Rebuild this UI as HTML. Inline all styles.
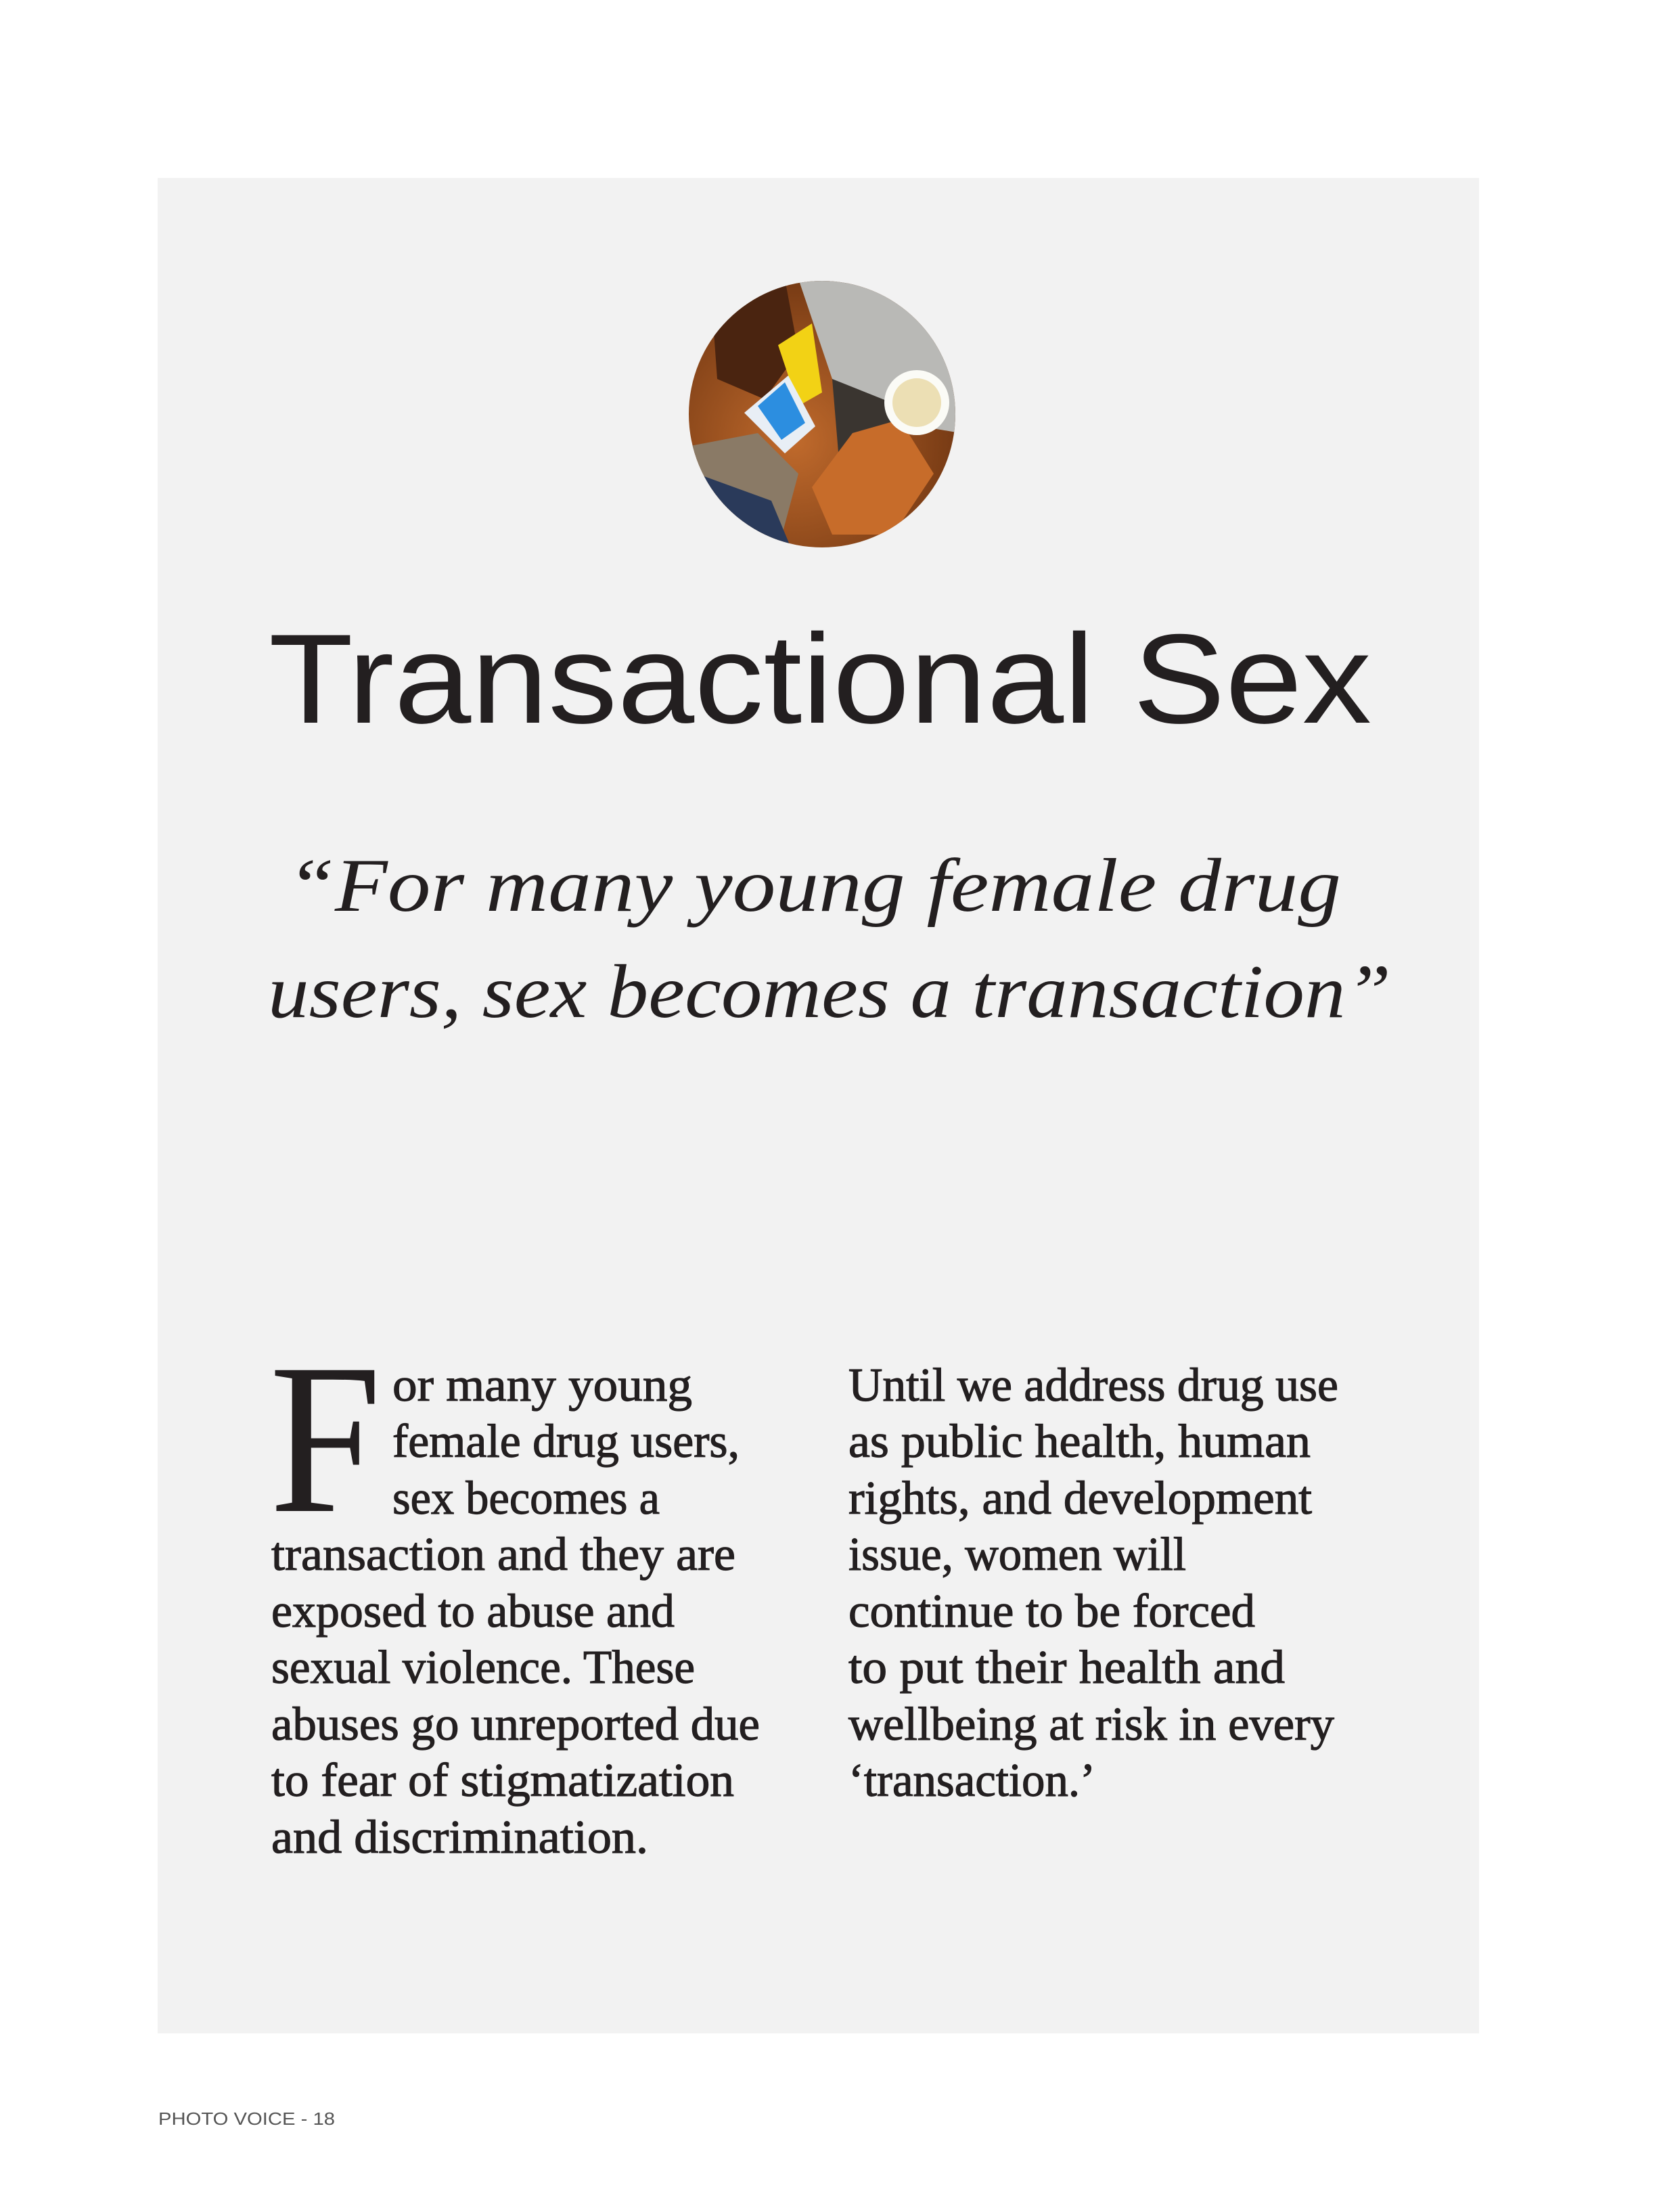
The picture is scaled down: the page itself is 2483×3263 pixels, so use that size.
<!DOCTYPE html>
<html><head><meta charset="utf-8"><style>
html,body{margin:0;padding:0;background:#fff;}
svg{display:block;}
</style></head><body>
<svg width="2483" height="3263" viewBox="0 0 2483 3263" xmlns="http://www.w3.org/2000/svg">
<rect x="0" y="0" width="2483" height="3263" fill="#ffffff"/>
<rect x="233" y="263" width="1953" height="2742" fill="#f2f2f2"/>
<defs>
<clipPath id="circ"><circle cx="1215" cy="612" r="197"/></clipPath>
<radialGradient id="skin" cx="0.4" cy="0.6" r="0.7"><stop offset="0" stop-color="#c06a2c"/><stop offset="1" stop-color="#6a3210"/></radialGradient>
</defs>
<g clip-path="url(#circ)">
<rect x="1015" y="412" width="400" height="400" fill="url(#skin)"/>
<path d="M1180 412 L1420 412 L1420 640 L1300 620 L1230 560 Z" fill="#b9b9b6"/>
<path d="M1230 560 L1330 600 L1310 690 L1240 680 Z" fill="#3a3530"/>
<path d="M1015 660 L1120 640 L1180 700 L1150 812 L1015 812 Z" fill="#8a7a66"/>
<path d="M1030 700 L1140 740 L1170 812 L1030 812 Z" fill="#2a3a5a"/>
<path d="M1050 420 L1160 412 L1180 520 L1130 590 L1060 560 Z" fill="#4a2410"/>
<path d="M1150 510 L1200 478 L1215 580 L1180 600 Z" fill="#f2d215"/>
<path d="M1100 610 L1165 555 L1205 630 L1160 670 Z" fill="#e8eef5"/>
<path d="M1120 600 L1160 565 L1190 625 L1155 650 Z" fill="#2c8ee0"/>
<path d="M1260 640 L1330 620 L1380 700 L1320 790 L1230 790 L1200 720 Z" fill="#c76c2a"/>
<circle cx="1355" cy="595" r="48" fill="#fbfbf6"/>
<circle cx="1355" cy="595" r="36" fill="#ecdfb4"/>
</g>
<text x="1212" y="1068" text-anchor="middle" font-family="Liberation Sans, sans-serif" font-size="188" fill="#231f20" textLength="1630" lengthAdjust="spacingAndGlyphs">Transactional Sex</text>
<g font-family="Liberation Serif, serif" font-style="italic" font-size="112" fill="#231f20">
<text x="424" y="1346" textLength="1558" lengthAdjust="spacingAndGlyphs">“For many young female drug</text>
<text x="396" y="1503" textLength="1660" lengthAdjust="spacingAndGlyphs">users, sex becomes a transaction”</text>
</g>
<text x="398" y="2233" font-family="Liberation Serif, serif" font-size="318" fill="#231f20" textLength="166" lengthAdjust="spacingAndGlyphs">F</text>
<g font-family="Liberation Serif, serif" font-size="70" fill="#231f20" stroke="#231f20" stroke-width="1.2">
<text x="580" y="2070" textLength="443" lengthAdjust="spacingAndGlyphs">or many young</text>
<text x="580" y="2153" textLength="513" lengthAdjust="spacingAndGlyphs">female drug users,</text>
<text x="580" y="2237" textLength="395" lengthAdjust="spacingAndGlyphs">sex becomes a</text>
<text x="401" y="2320" textLength="686" lengthAdjust="spacingAndGlyphs">transaction and they are</text>
<text x="401" y="2404" textLength="596" lengthAdjust="spacingAndGlyphs">exposed to abuse and</text>
<text x="401" y="2487" textLength="626" lengthAdjust="spacingAndGlyphs">sexual violence. These</text>
<text x="401" y="2571" textLength="722" lengthAdjust="spacingAndGlyphs">abuses go unreported due</text>
<text x="401" y="2654" textLength="684" lengthAdjust="spacingAndGlyphs">to fear of stigmatization</text>
<text x="401" y="2738" textLength="557" lengthAdjust="spacingAndGlyphs">and discrimination.</text>
</g>
<g font-family="Liberation Serif, serif" font-size="70" fill="#231f20" stroke="#231f20" stroke-width="1.2">
<text x="1254" y="2070" textLength="724" lengthAdjust="spacingAndGlyphs">Until we address drug use</text>
<text x="1254" y="2153" textLength="683" lengthAdjust="spacingAndGlyphs">as public health, human</text>
<text x="1254" y="2237" textLength="685" lengthAdjust="spacingAndGlyphs">rights, and development</text>
<text x="1254" y="2320" textLength="499" lengthAdjust="spacingAndGlyphs">issue, women will</text>
<text x="1254" y="2404" textLength="601" lengthAdjust="spacingAndGlyphs">continue to be forced</text>
<text x="1254" y="2487" textLength="645" lengthAdjust="spacingAndGlyphs">to put their health and</text>
<text x="1254" y="2571" textLength="718" lengthAdjust="spacingAndGlyphs">wellbeing at risk in every</text>
<text x="1254" y="2654" textLength="365" lengthAdjust="spacingAndGlyphs">‘transaction.’</text>
</g>
<text x="234" y="3140" font-family="Liberation Sans, sans-serif" font-size="26" fill="#555555" textLength="261" lengthAdjust="spacingAndGlyphs">PHOTO VOICE - 18</text>
</svg>
</body></html>
